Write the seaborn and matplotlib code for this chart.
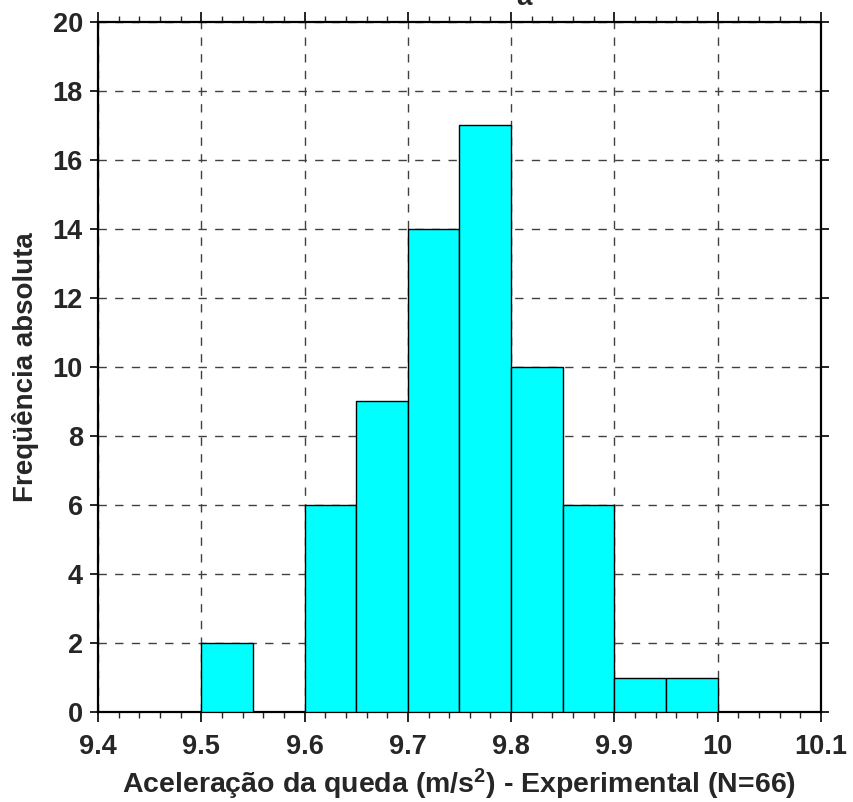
import numpy as np
import pandas as pd
import matplotlib
matplotlib.use("Agg")
import matplotlib.pyplot as plt
import seaborn as sns
from matplotlib.ticker import MultipleLocator

# ---- data ----
bin_edges = [9.40, 9.45, 9.50, 9.55, 9.60, 9.65, 9.70, 9.75, 9.80, 9.85, 9.90, 9.95, 10.00, 10.05, 10.10]
counts = [0, 0, 2, 0, 6, 9, 14, 17, 10, 6, 1, 1, 0, 0]
x_ticks = [9.4, 9.5, 9.6, 9.7, 9.8, 9.9, 10.0, 10.1]
x_tick_labels = ["9.4", "9.5", "9.6", "9.7", "9.8", "9.9", "10", "10.1"]
y_ticks = [0, 2, 4, 6, 8, 10, 12, 14, 16, 18, 20]

centers = [(a + b) / 2 for a, b in zip(bin_edges[:-1], bin_edges[1:])]
df = pd.DataFrame({"g": centers, "n": counts})

sns.set_style("white")
plt.rcParams["font.family"] = ["Liberation Sans", "DejaVu Sans"]
plt.rcParams["font.weight"] = "bold"
plt.rcParams["mathtext.fontset"] = "custom"
plt.rcParams["mathtext.rm"] = "Liberation Sans:bold"
plt.rcParams["mathtext.bf"] = "Liberation Sans:bold"
plt.rcParams["mathtext.default"] = "bf"

fig = plt.figure(figsize=(8.54, 8.02), dpi=100)
ax = fig.add_axes([0.1148, 0.1122, 0.9613 - 0.1148, 0.9726 - 0.1122])

sns.histplot(data=df, x="g", weights="n", bins=bin_edges, ax=ax,
             color="#00FFFF", alpha=1.0, edgecolor="black", linewidth=1.0,
             zorder=3)

ax.set_xlim(9.4, 10.1)
ax.set_ylim(0, 20)
ax.set_xticks(x_ticks)
ax.set_xticklabels(x_tick_labels)
ax.set_yticks(y_ticks)
ax.xaxis.set_minor_locator(MultipleLocator(0.02))

ax.grid(True, which="major", linestyle=(0, (6, 6)), color="#404040", linewidth=1.0, zorder=0)
ax.set_axisbelow(True)

ax.tick_params(axis="both", which="major", labelsize=19.5, direction="out",
               length=6, width=1.2, color="black")
ax.tick_params(axis="x", which="major", top=True, bottom=True, length=7, pad=9)
ax.tick_params(axis="y", which="major", left=True, right=True, pad=5)
ax.tick_params(axis="x", which="minor", top=True, bottom=True, direction="out",
               length=4, width=1.0)
for lbl in ax.get_xticklabels() + ax.get_yticklabels():
    lbl.set_fontweight("bold")

for sp in ax.spines.values():
    sp.set_visible(True)
    sp.set_color("black")
    sp.set_linewidth(1.6)

ax.set_xlabel(r"Aceleração da queda (m/s$^{2}$) - Experimental (N=66)",
              fontsize=20.5, fontweight="bold", labelpad=5)
ax.set_ylabel("Freqüência absoluta", fontsize=20, fontweight="bold", labelpad=10)

fig.text(0.614, 1.003, "a", fontsize=20, fontweight="bold", ha="center", va="center")

fig.savefig("out.png", dpi=100)
